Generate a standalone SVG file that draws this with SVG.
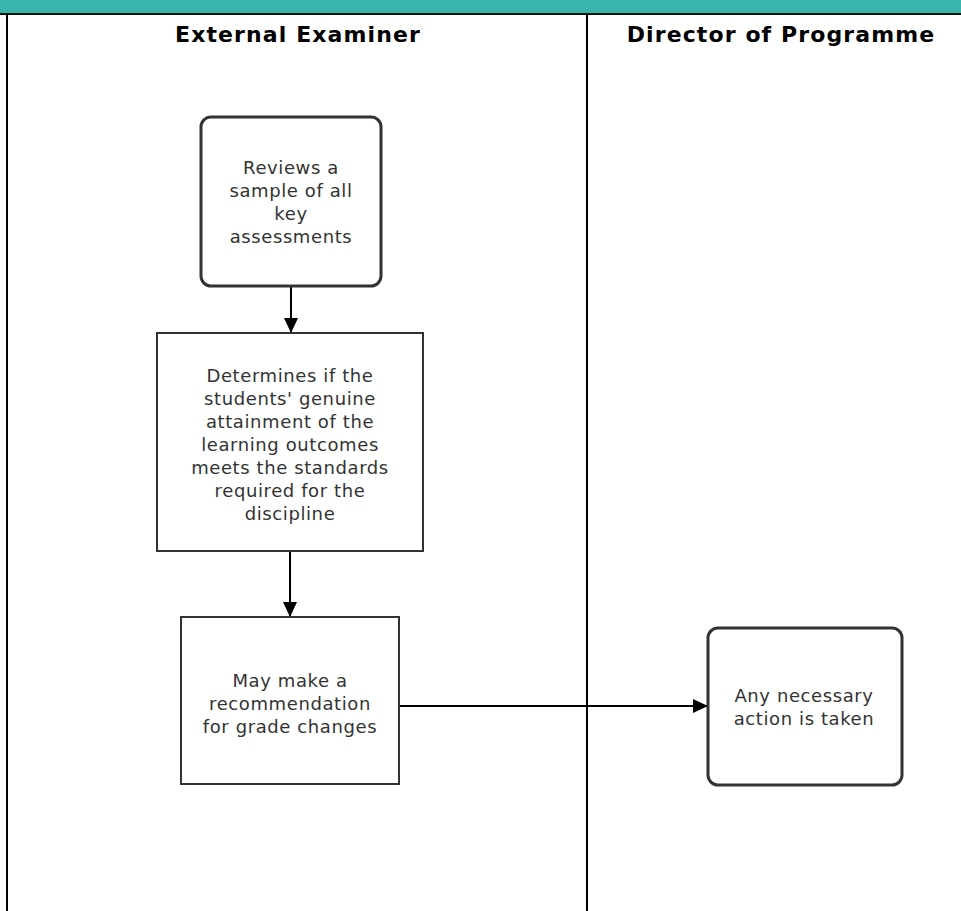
<svg xmlns="http://www.w3.org/2000/svg" width="961" height="911" viewBox="0 0 961 911">
<style>
.lane{font-family:"DejaVu Sans",Verdana,sans-serif;font-weight:bold;font-size:22px;letter-spacing:1.1px;fill:#000;text-anchor:middle}
.t{font-family:"DejaVu Sans",Verdana,sans-serif;font-size:18px;letter-spacing:0.6px;fill:#333;text-anchor:middle}
.r{fill:#fff;stroke:#333;stroke-width:3}
.s{fill:#fff;stroke:#333;stroke-width:2}
.c{stroke:#000;stroke-width:2;fill:none}
</style>
<defs>
<marker id="ah" markerWidth="15" markerHeight="14" refX="15" refY="7" orient="auto" markerUnits="userSpaceOnUse" viewBox="0 0 15 14">
<path d="M0,0 L15,7 L0,14 z" fill="#000"/>
</marker>
</defs>
<rect width="961" height="911" fill="#fff"/>
<g id="pool">
<rect x="0" y="0" width="961" height="14" fill="#3ab5ad"/>
<line x1="0" y1="14" x2="961" y2="14" stroke="#111" stroke-width="2"/>
<line x1="7" y1="14" x2="7" y2="911" stroke="#000" stroke-width="2"/>
<line x1="587" y1="14" x2="587" y2="911" stroke="#000" stroke-width="2"/>
<text class="lane" x="298" y="42">External Examiner</text>
<text class="lane" x="781" y="42">Director of Programme</text>
</g>
<g id="connectors">
<line class="c" x1="291" y1="287" x2="291" y2="333" marker-end="url(#ah)"/>
<line class="c" x1="290" y1="551" x2="290" y2="617" marker-end="url(#ah)"/>
<line class="c" x1="399" y1="706" x2="708" y2="706" marker-end="url(#ah)"/>
</g>
<g id="n1">
<rect class="r" x="201" y="117" width="180" height="169" rx="10"/>
<text class="t"><tspan x="291" y="174">Reviews a</tspan><tspan x="291" y="197">sample of all</tspan><tspan x="291" y="220">key</tspan><tspan x="291" y="243">assessments</tspan></text>
</g>
<g id="n2">
<rect class="s" x="157" y="333" width="266" height="218"/>
<text class="t"><tspan x="290" y="382">Determines if the</tspan><tspan x="290" y="405">students' genuine</tspan><tspan x="290" y="428">attainment of the</tspan><tspan x="290" y="451">learning outcomes</tspan><tspan x="290" y="474">meets the standards</tspan><tspan x="290" y="497">required for the</tspan><tspan x="290" y="520">discipline</tspan></text>
</g>
<g id="n3">
<rect class="s" x="181" y="617" width="218" height="167"/>
<text class="t"><tspan x="290" y="687">May make a</tspan><tspan x="290" y="710">recommendation</tspan><tspan x="290" y="733">for grade changes</tspan></text>
</g>
<g id="n4">
<rect class="r" x="708" y="628" width="194" height="157" rx="10"/>
<text class="t"><tspan x="804" y="702">Any necessary</tspan><tspan x="804" y="725">action is taken</tspan></text>
</g>
</svg>
